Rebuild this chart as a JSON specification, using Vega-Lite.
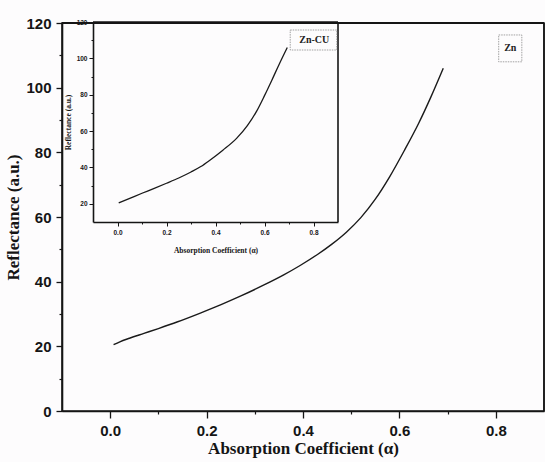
{
  "$schema": "https://vega.github.io/schema/vega-lite/v6.json",
  "width": 482,
  "height": 388,
  "autosize": "none",
  "padding": {"left": 62, "top": 23, "right": 1, "bottom": 51},
  "background": "#fdfcfd",
  "config": {
    "view": {"stroke": "#151515", "strokeWidth": 1.6},
    "axis": {"grid": false, "domainColor": "#151515", "tickColor": "#151515", "labelColor": "#151515", "titleColor": "#151515"}
  },
  "datasets": {
    "zn": [
      {"x": 0.007, "y": 20.5}, {"x": 0.02, "y": 21.4}, {"x": 0.04, "y": 22.5}, {"x": 0.07, "y": 24},
      {"x": 0.1, "y": 25.5}, {"x": 0.14, "y": 27.6}, {"x": 0.187, "y": 30.3}, {"x": 0.23, "y": 32.9},
      {"x": 0.27, "y": 35.5}, {"x": 0.318, "y": 38.9}, {"x": 0.36, "y": 42.1}, {"x": 0.394, "y": 45},
      {"x": 0.43, "y": 48.4}, {"x": 0.46, "y": 51.6}, {"x": 0.49, "y": 55.3}, {"x": 0.52, "y": 59.8},
      {"x": 0.55, "y": 65.5}, {"x": 0.58, "y": 72.5}, {"x": 0.61, "y": 80.5}, {"x": 0.64, "y": 89},
      {"x": 0.665, "y": 97}, {"x": 0.691, "y": 106}
    ],
    "zncu": [
      {"x": 0.005, "y": 20.5}, {"x": 0.05, "y": 23}, {"x": 0.1, "y": 25.8}, {"x": 0.15, "y": 28.5},
      {"x": 0.2, "y": 31.3}, {"x": 0.25, "y": 34.2}, {"x": 0.3, "y": 37.5}, {"x": 0.34, "y": 40.5},
      {"x": 0.377, "y": 44}, {"x": 0.43, "y": 49.5}, {"x": 0.486, "y": 56}, {"x": 0.53, "y": 63},
      {"x": 0.568, "y": 71}, {"x": 0.6, "y": 79.5}, {"x": 0.63, "y": 88}, {"x": 0.66, "y": 96.8},
      {"x": 0.693, "y": 106}
    ],
    "mainLabel": [{"label": "Zn", "x": 0.83, "y": 112.2}],
    "insetLabel": [{"label": "Zn-CU", "x": 0.803, "y": 110}],
    "one": [{}]
  },
  "layer": [
    {
      "data": {"name": "zn"},
      "mark": {"type": "line", "color": "#1a1a1a", "strokeWidth": 1.4, "interpolate": "monotone"},
      "encoding": {
        "x": {"field": "x", "type": "quantitative",
          "scale": {"domain": [-0.1, 0.9], "nice": false, "zero": false},
          "axis": {"orient": "bottom", "values": [0, 0.2, 0.4, 0.6, 0.8], "format": ".1f", "tickSize": 7, "tickWidth": 1.3, "domainWidth": 1.6,
            "labelFont": "Liberation Sans", "labelFontWeight": "bold", "labelFontSize": 15, "labelPadding": 5,
            "title": "Absorption Coefficient (α)", "titleFont": "Liberation Serif", "titleFontSize": 17, "titleFontWeight": "bold", "titlePadding": 2}},
        "y": {"field": "y", "type": "quantitative",
          "scale": {"domain": [0, 120], "nice": false, "zero": false},
          "axis": {"orient": "left", "values": [0, 20, 40, 60, 80, 100, 120], "tickSize": 6, "tickWidth": 1.3, "domainWidth": 1.6,
            "labelFont": "Liberation Sans", "labelFontWeight": "bold", "labelFontSize": 15, "labelPadding": 5,
            "title": "Reflectance (a.u.)", "titleFont": "Liberation Serif", "titleFontSize": 17, "titleFontWeight": "bold", "titlePadding": 3}}
      }
    },
    {
      "data": {"name": "zn"},
      "mark": {"type": "line", "opacity": 0},
      "encoding": {
        "x": {"field": "x", "type": "quantitative",
          "scale": {"domain": [-0.1, 0.9], "nice": false, "zero": false},
          "axis": {"orient": "bottom", "values": [0.1, 0.3, 0.5, 0.7], "tickSize": 3, "tickWidth": 1.2, "domain": false, "labels": false, "title": null}},
        "y": {"field": "y", "type": "quantitative",
          "scale": {"domain": [0, 120], "nice": false, "zero": false},
          "axis": {"orient": "left", "values": [10, 30, 50, 70, 90, 110], "tickSize": 3, "tickWidth": 1.2, "domain": false, "labels": false, "title": null}}
      }
    },
    {
      "data": {"name": "one"},
      "mark": {"type": "rule", "color": "#151515", "strokeWidth": 1.8},
      "encoding": {
        "x": {"datum": -0.1, "type": "quantitative", "scale": {"domain": [-0.1, 0.9], "nice": false, "zero": false}, "axis": null},
        "x2": {"datum": 0.9},
        "y": {"datum": 120, "type": "quantitative", "scale": {"domain": [0, 120], "nice": false, "zero": false}, "axis": null}
      }
    },
    {
      "data": {"name": "one"},
      "mark": {"type": "rule", "color": "#151515", "strokeWidth": 1.4},
      "encoding": {
        "x": {"datum": 0.9, "type": "quantitative", "scale": {"domain": [-0.1, 0.9], "nice": false, "zero": false}, "axis": null},
        "y": {"datum": 0, "type": "quantitative", "scale": {"domain": [0, 120], "nice": false, "zero": false}, "axis": null},
        "y2": {"datum": 120}
      }
    },
    {
      "data": {"name": "mainLabel"},
      "mark": {"type": "text", "font": "Liberation Serif", "fontWeight": "bold", "fontSize": 10, "color": "#222"},
      "encoding": {
        "x": {"field": "x", "type": "quantitative", "scale": {"domain": [-0.1, 0.9], "nice": false, "zero": false}, "axis": null},
        "y": {"field": "y", "type": "quantitative", "scale": {"domain": [0, 120], "nice": false, "zero": false}, "axis": null},
        "text": {"field": "label"}
      }
    },
    {
      "data": {"name": "one"},
      "mark": {"type": "rect", "fill": "transparent", "stroke": "#8a8a8a", "strokeWidth": 0.8, "strokeDash": [1.5, 1]},
      "encoding": {
        "x": {"datum": 0.806, "type": "quantitative", "scale": {"domain": [-0.1, 0.9], "nice": false, "zero": false}, "axis": null},
        "x2": {"datum": 0.854},
        "y": {"datum": 108, "type": "quantitative", "scale": {"domain": [0, 120], "nice": false, "zero": false}, "axis": null},
        "y2": {"datum": 116.3}
      }
    },
    {
      "data": {"name": "zncu"},
      "mark": {"type": "line", "color": "#1a1a1a", "strokeWidth": 1.3, "interpolate": "monotone"},
      "encoding": {
        "x": {"field": "x", "type": "quantitative",
          "scale": {"domain": [-0.1, 0.9], "range": [31, 276], "nice": false, "zero": false},
          "axis": {"orient": "bottom", "offset": -189, "values": [0, 0.2, 0.4, 0.6, 0.8], "format": ".1f", "tickSize": 4, "tickWidth": 1, "domainWidth": 1.6,
            "labelFont": "Liberation Sans", "labelFontWeight": "bold", "labelFontSize": 6.5, "labelPadding": 3,
            "title": "Absorption Coefficient (α)", "titleFont": "Liberation Serif", "titleFontSize": 7.5, "titleFontWeight": "bold", "titlePadding": 11}},
        "y": {"field": "y", "type": "quantitative",
          "scale": {"domain": [10, 120], "range": [199, -1], "nice": false, "zero": false},
          "axis": {"orient": "left", "offset": -31, "values": [20, 40, 60, 80, 100, 120], "tickSize": 4, "tickWidth": 1, "domainWidth": 1.6,
            "labelFont": "Liberation Sans", "labelFontWeight": "bold", "labelFontSize": 6.5, "labelPadding": 2,
            "title": "Reflectance (a.u.)", "titleFont": "Liberation Serif", "titleFontSize": 7.5, "titleFontWeight": "bold", "titlePadding": 4}}
      }
    },
    {
      "data": {"name": "zncu"},
      "mark": {"type": "line", "opacity": 0},
      "encoding": {
        "x": {"field": "x", "type": "quantitative",
          "scale": {"domain": [-0.1, 0.9], "range": [31, 276], "nice": false, "zero": false},
          "axis": {"orient": "bottom", "offset": -189, "values": [0.1, 0.3, 0.5, 0.7], "tickSize": 2, "tickWidth": 1, "domain": false, "labels": false, "title": null}},
        "y": {"field": "y", "type": "quantitative",
          "scale": {"domain": [10, 120], "range": [199, -1], "nice": false, "zero": false},
          "axis": {"orient": "left", "offset": -31, "values": [30, 50, 70, 90, 110], "tickSize": 2, "tickWidth": 1, "domain": false, "labels": false, "title": null}}
      }
    },
    {
      "data": {"name": "one"},
      "mark": {"type": "rule", "color": "#151515", "strokeWidth": 1.6},
      "encoding": {
        "x": {"datum": -0.1, "type": "quantitative", "scale": {"domain": [-0.1, 0.9], "range": [31, 276], "nice": false, "zero": false}, "axis": null},
        "x2": {"datum": 0.9},
        "y": {"datum": 120, "type": "quantitative", "scale": {"domain": [10, 120], "range": [199, -1], "nice": false, "zero": false}, "axis": null}
      }
    },
    {
      "data": {"name": "one"},
      "mark": {"type": "rule", "color": "#151515", "strokeWidth": 1.6},
      "encoding": {
        "x": {"datum": 0.9, "type": "quantitative", "scale": {"domain": [-0.1, 0.9], "range": [31, 276], "nice": false, "zero": false}, "axis": null},
        "y": {"datum": 10, "type": "quantitative", "scale": {"domain": [10, 120], "range": [199, -1], "nice": false, "zero": false}, "axis": null},
        "y2": {"datum": 120}
      }
    },
    {
      "data": {"name": "insetLabel"},
      "mark": {"type": "text", "font": "Liberation Serif", "fontWeight": "bold", "fontSize": 10, "color": "#222"},
      "encoding": {
        "x": {"field": "x", "type": "quantitative", "scale": {"domain": [-0.1, 0.9], "range": [31, 276], "nice": false, "zero": false}, "axis": null},
        "y": {"field": "y", "type": "quantitative", "scale": {"domain": [10, 120], "range": [199, -1], "nice": false, "zero": false}, "axis": null},
        "text": {"field": "label"}
      }
    },
    {
      "data": {"name": "one"},
      "mark": {"type": "rect", "fill": "transparent", "stroke": "#8a8a8a", "strokeWidth": 0.8, "strokeDash": [1.5, 1]},
      "encoding": {
        "x": {"datum": 0.705, "type": "quantitative", "scale": {"domain": [-0.1, 0.9], "range": [31, 276], "nice": false, "zero": false}, "axis": null},
        "x2": {"datum": 0.895},
        "y": {"datum": 104.6, "type": "quantitative", "scale": {"domain": [10, 120], "range": [199, -1], "nice": false, "zero": false}, "axis": null},
        "y2": {"datum": 115.6}
      }
    }
  ],
  "resolve": {
    "scale": {"x": "independent", "y": "independent"},
    "axis": {"x": "independent", "y": "independent"}
  }
}
